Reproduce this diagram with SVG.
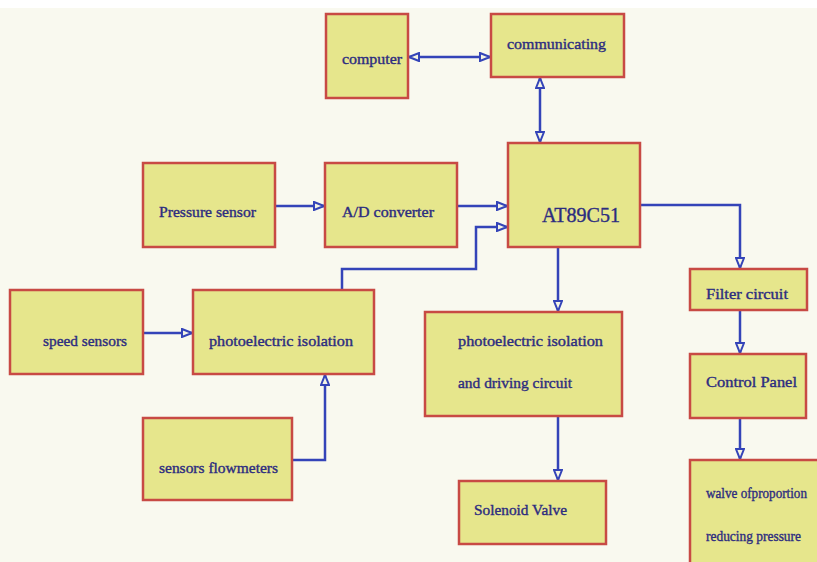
<svg xmlns="http://www.w3.org/2000/svg" width="817" height="562" viewBox="0 0 817 562">
<defs>
<style>
.box{fill:#e6e68c;stroke:#c84a44;stroke-width:2.5}
.t{font-family:"Liberation Serif","Times New Roman",serif;font-size:14px;fill:#2c2c80;stroke:#2c2c80;stroke-width:0.35}
.big{font-size:20px}
.c{fill:none;stroke:#3444b8;stroke-width:2.5}
</style>
<marker id="ah" viewBox="0 0 12 10" refX="11" refY="5" markerWidth="12" markerHeight="10" markerUnits="userSpaceOnUse" orient="auto-start-reverse">
<path d="M1,1 L11,5 L1,9 Z" fill="#f4f4e4" stroke="#3444b8" stroke-width="2"/>
</marker>
</defs>
<rect width="817" height="562" fill="#f9f9ef"/>
<rect width="817" height="8" fill="#ffffff"/>

<g id="connectors">
<path class="c" d="M409,57 H490" marker-start="url(#ah)" marker-end="url(#ah)"/>
<path class="c" d="M540,78 V142" marker-start="url(#ah)" marker-end="url(#ah)"/>
<path class="c" d="M276,206 H324" marker-end="url(#ah)"/>
<path class="c" d="M458,206 H507" marker-end="url(#ah)"/>
<path class="c" d="M342,290 V269 H476 V227 H507" marker-end="url(#ah)"/>
<path class="c" d="M144,333 H192" marker-end="url(#ah)"/>
<path class="c" d="M293,460 H325 V375" marker-end="url(#ah)"/>
<path class="c" d="M558,248 V311" marker-end="url(#ah)"/>
<path class="c" d="M558,417 V480" marker-end="url(#ah)"/>
<path class="c" d="M641,205 H740 V268" marker-end="url(#ah)"/>
<path class="c" d="M740,311 V353" marker-end="url(#ah)"/>
<path class="c" d="M740,419 V459" marker-end="url(#ah)"/>
</g>

<g id="computer"><rect class="box" x="326" y="14" width="82" height="84"/><text class="t" x="342" y="64" textLength="60" lengthAdjust="spacingAndGlyphs">computer</text></g>
<g id="communicating"><rect class="box" x="491" y="14" width="133" height="63"/><text class="t" x="507" y="49" textLength="99" lengthAdjust="spacingAndGlyphs">communicating</text></g>
<g id="at89c51"><rect class="box" x="508" y="143" width="132" height="104"/><text class="t big" x="542" y="222" textLength="78" lengthAdjust="spacingAndGlyphs">AT89C51</text></g>
<g id="pressure-sensor"><rect class="box" x="143" y="163" width="132" height="84"/><text class="t" x="159" y="217" textLength="97" lengthAdjust="spacingAndGlyphs">Pressure sensor</text></g>
<g id="ad-converter"><rect class="box" x="325" y="163" width="132" height="84"/><text class="t" x="342" y="217" textLength="92" lengthAdjust="spacingAndGlyphs">A/D converter</text></g>
<g id="speed-sensors"><rect class="box" x="10" y="290" width="133" height="84"/><text class="t" x="43" y="346" textLength="84" lengthAdjust="spacingAndGlyphs">speed sensors</text></g>
<g id="photoelectric-isolation"><rect class="box" x="193" y="290" width="181" height="84"/><text class="t" x="209" y="346" textLength="144" lengthAdjust="spacingAndGlyphs">photoelectric isolation</text></g>
<g id="sensors-flowmeters"><rect class="box" x="143" y="418" width="149" height="82"/><text class="t" x="159" y="473" textLength="119" lengthAdjust="spacingAndGlyphs">sensors flowmeters</text></g>
<g id="driving-circuit"><rect class="box" x="425" y="312" width="197" height="104"/><text class="t" x="458" y="346" textLength="145" lengthAdjust="spacingAndGlyphs">photoelectric isolation</text><text class="t" x="458" y="388" textLength="114" lengthAdjust="spacingAndGlyphs">and driving circuit</text></g>
<g id="solenoid-valve"><rect class="box" x="459" y="481" width="147" height="63"/><text class="t" x="474" y="515" textLength="93" lengthAdjust="spacingAndGlyphs">Solenoid Valve</text></g>
<g id="filter-circuit"><rect class="box" x="690" y="269" width="117" height="41"/><text class="t" x="706" y="299" textLength="82" lengthAdjust="spacingAndGlyphs">Filter  circuit</text></g>
<g id="control-panel"><rect class="box" x="690" y="354" width="116" height="64"/><text class="t" x="706" y="387" textLength="91" lengthAdjust="spacingAndGlyphs">Control Panel</text></g>
<g id="proportion-valve"><rect class="box" x="690" y="460" width="140" height="120"/><text class="t" x="706" y="498" textLength="101" lengthAdjust="spacingAndGlyphs">walve ofproportion</text><text class="t" x="706" y="541" textLength="95" lengthAdjust="spacingAndGlyphs">reducing pressure</text></g>
</svg>
